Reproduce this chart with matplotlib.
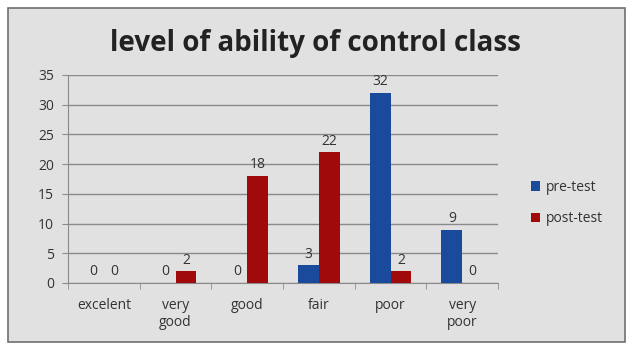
import matplotlib.pyplot as plt
import numpy as np
from matplotlib.patches import Rectangle

categories = ['excelent', 'very\ngood', 'good', 'fair', 'poor', 'very\npoor']
pre_test = [0, 0, 0, 3, 32, 9]
post_test = [0, 2, 18, 22, 2, 0]
series_names = ['pre-test', 'post-test']
colors = ['#1a4a9c', '#a00a0a']

plt.rcParams['font.family'] = ['Open Sans', 'DejaVu Sans']

fig = plt.figure(figsize=(6.3, 3.47), dpi=100)
fig.patch.set_facecolor('white')
# grey chart panel with a border
fig.patches.append(Rectangle((8 / 630, 5 / 347), 617 / 630, 334 / 347,
                             transform=fig.transFigure, facecolor='#e1e1e1',
                             edgecolor='#707070', linewidth=1.2, zorder=-10))

ax = fig.add_axes([68 / 630, (347 - 283) / 347, 430 / 630, 208 / 347])
ax.set_facecolor('none')

x = np.arange(len(categories))
w = 0.29
b1 = ax.bar(x - w / 2, pre_test, w, color=colors[0], label=series_names[0], zorder=3)
b2 = ax.bar(x + w / 2, post_test, w, color=colors[1], label=series_names[1], zorder=3)
for bars in (b1, b2):
    for r in bars:
        ax.text(r.get_x() + r.get_width() / 2, r.get_height() + 0.6, f'{int(r.get_height())}',
                ha='center', va='bottom', fontsize=10, color='#333333')

ax.set_xlim(-0.5, len(categories) - 0.5)
ax.set_ylim(0, 35)
ax.set_yticks(range(0, 36, 5))
ax.yaxis.grid(True, color='#8a8a8a', linewidth=1)
ax.set_axisbelow(True)
ax.set_xticks(x)
ax.set_xticklabels(categories, fontsize=10, color='#333333')
ax.set_xticks(np.arange(-0.5, len(categories), 1), minor=True)
ax.tick_params(axis='x', which='major', length=0, pad=11)
ax.tick_params(axis='x', which='minor', length=4, color='#8a8a8a')
ax.tick_params(axis='y', labelsize=10, labelcolor='#333333', length=4, color='#8a8a8a', pad=6)
for s in ['top', 'right']:
    ax.spines[s].set_visible(False)
ax.spines['left'].set_color('#8a8a8a')
ax.spines['bottom'].set_color('#8a8a8a')

fig.text(0.5, 0.875, 'level of ability of control class', ha='center', va='center',
         fontsize=20, fontweight='bold', color='#222222')

fig.legend(loc='center left', bbox_to_anchor=(518 / 630, (347 - 203) / 347), frameon=False,
           fontsize=10, handlelength=0.7, handleheight=0.7, handletextpad=0.4,
           labelspacing=1.2, labelcolor='#333333')

fig.savefig('out.png', dpi=100)
